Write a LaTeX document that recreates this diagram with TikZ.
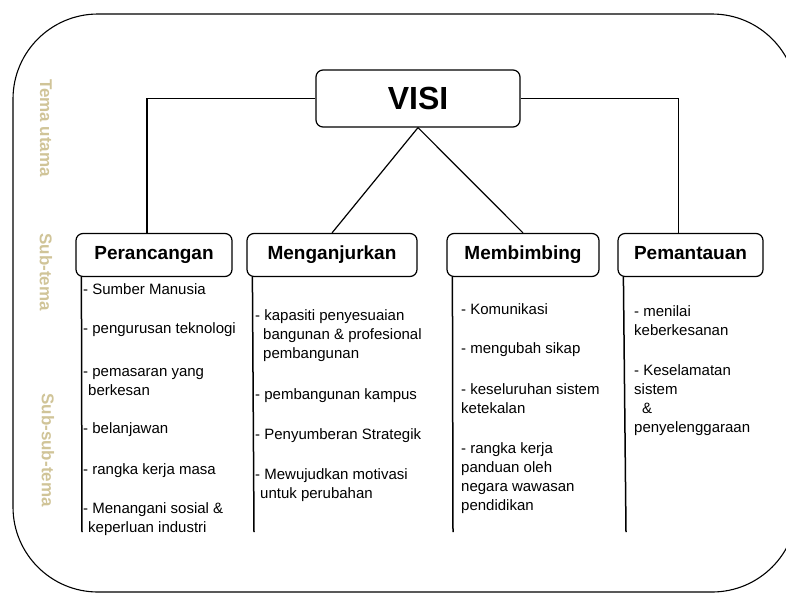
\documentclass[tikz,border=0pt]{standalone}
\usepackage{fontspec}
\setmainfont{Liberation Sans}
\usetikzlibrary{positioning}
\definecolor{sidetan}{RGB}{208,196,152}
\newcommand{\drawItem}[4]{
    \node[item] (#1) at (#2,#3) {#4}
}
\newcommand{\drawStem}[2]{
    \draw[stem] ([xshift=6]#1.south west) -- (#2)
}
\tikzset{
    themebox/.style={draw, line width=1.2pt, rounded corners=7, inner sep=0, align=center},
    subbox/.style={themebox, minimum height=43, text height=13.7, text depth=4, font=\bfseries\fontsize{19}{19}\selectfont},
    item/.style={anchor=base west, inner sep=0, align=left, font=\fontsize{15}{19}\selectfont},
    sidelabel/.style={text=sidetan, rotate=-90, font=\bfseries\fontsize{17}{17}\selectfont},
    stem/.style={line width=1.5pt},
    link/.style={line width=1.2pt}
}
\begin{document}
\begin{tikzpicture}[x=1pt,y=-1pt]
            \useasboundingbox (0,0) rectangle (786,595);
            \draw[line width=1.1pt, rounded corners=85] (13,14) rectangle (797,592);

            \node[sidelabel] (tema) at (46,128) {Tema utama};
            \node[sidelabel] (subtema) at (46,272) {Sub-tema};
            \node[sidelabel] (subsub) at (48,450) {Sub-sub-tema};

            \node[themebox, minimum width=204, minimum height=57, font=\bfseries\fontsize{32}{32}\selectfont] (visi) at (418,98.5) {VISI};
            \node[subbox, minimum width=156] (per) at (154,255) {Perancangan};
            \node[subbox, minimum width=170] (mgj) at (332,255) {Menganjurkan};
            \node[subbox, minimum width=152] (mbb) at (523,255) {Membimbing};
            \node[subbox, minimum width=145] (pmt) at (690.5,255) {Pemantauan};

            \draw[link] (visi.west) -| ([xshift=-7]per.north);
            \draw[link] (visi.east) -| ([xshift=-12]pmt.north);
            \draw[link] (visi.south) -- (mgj.north);
            \draw[link] (visi.south) -- (mbb.north);

            \coordinate (perEnd) at (82,532);
            \coordinate (mgjEnd) at (254,532);
            \coordinate (mbbEnd) at (453,532);
            \coordinate (pmtEnd) at (626,532);
            \drawStem{per}{perEnd};
            \drawStem{mgj}{mgjEnd};
            \drawStem{mbb}{mbbEnd};
            \drawStem{pmt}{pmtEnd};

            % Perancangan (y = baseline of last line)
            \drawItem{per1}{83}{294}{- Sumber Manusia};
            \drawItem{per2}{83}{333}{- pengurusan teknologi};
            \drawItem{per3}{83}{395}{- pemasaran yang\\\hspace*{5pt}berkesan};
            \drawItem{per4}{83}{433}{- belanjawan};
            \drawItem{per5}{83}{474}{- rangka kerja masa};
            \drawItem{per6}{83}{532}{- Menangani sosial \&\\\hspace*{5pt}keperluan industri};

            % Menganjurkan
            \drawItem{mgj1}{255}{358}{- kapasiti penyesuaian\\\hspace*{8pt}bangunan \& profesional\\\hspace*{8pt}pembangunan};
            \drawItem{mgj2}{255}{399}{- pembangunan kampus};
            \drawItem{mgj3}{255}{439}{- Penyumberan Strategik};
            \drawItem{mgj4}{255}{498}{- Mewujudkan motivasi\\\hspace*{5pt}untuk perubahan};

            % Membimbing
            \drawItem{mbb1}{461}{314}{- Komunikasi};
            \drawItem{mbb2}{461}{353}{- mengubah sikap};
            \drawItem{mbb3}{461}{413}{- keseluruhan sistem\\ketekalan};
            \drawItem{mbb4}{461}{510}{- rangka kerja\\panduan oleh\\negara wawasan\\pendidikan};

            % Pemantauan
            \drawItem{pmt1}{634}{335}{- menilai\\keberkesanan};
            \drawItem{pmt2}{634}{432}{- Keselamatan\\sistem\\\hspace*{8pt}\&\\penyelenggaraan};
        \end{tikzpicture}
\end{document}
